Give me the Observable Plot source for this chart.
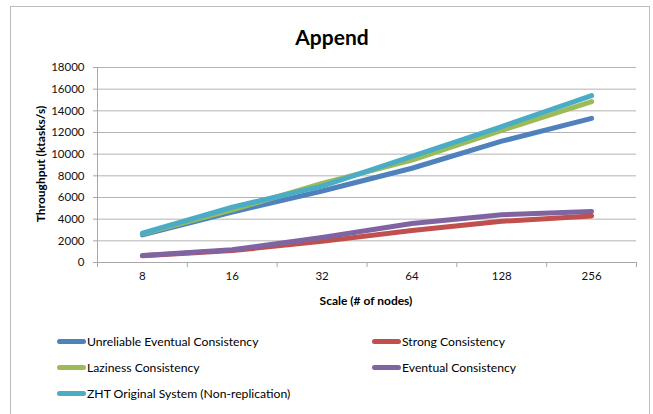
<!DOCTYPE html>
<html>
<head>
<meta charset="utf-8">
<script src="https://cdn.jsdelivr.net/npm/d3@7"></script>
<script src="https://cdn.jsdelivr.net/npm/@observablehq/plot@0.6"></script>
<style>
  html, body { margin: 0; padding: 0; background: #fff; }
  #chart {
    position: relative; width: 653px; height: 414px; overflow: hidden;
    font-family: Lato, "Open Sans", sans-serif; color: #000;
  }
  #frame {
    position: absolute; left: 10px; top: 6px; width: 640px; height: 440px;
    border: 1px solid #bcbcbc; box-sizing: border-box;
  }
  #title {
    position: absolute; left: 232px; width: 200px; top: 24px;
    text-align: center; font-weight: bold; font-size: 21px; line-height: 26px;
  }
  #plot { position: absolute; left: 0; top: 50px; }
  #plot svg { overflow: visible; }
  #plot [aria-label^="y-axis"] line, #plot [aria-label^="y-axis"] path,
  #plot [aria-label^="x-axis"] line, #plot [aria-label^="x-axis"] path { stroke: #a8a8a8; }
  #ytitle {
    position: absolute; left: 40px; top: 164px; white-space: nowrap;
    transform: translate(-50%, -50%) rotate(-90deg);
    font-weight: bold; font-size: 12px;
  }
  #xtitle {
    position: absolute; left: 266px; width: 200px; top: 293px;
    text-align: center; font-weight: bold; font-size: 12px; line-height: 16px;
  }
  #legend {
    position: absolute; left: 57px; top: 329px;
    display: grid; grid-template-columns: 315px 260px; grid-auto-rows: 25.8px;
    font-size: 12.2px;
  }
  .item { display: flex; align-items: center; white-space: nowrap; }
  .swatch { width: 29px; height: 5px; border-radius: 3px; margin-right: 1px; }
</style>
</head>
<body>
<div id="chart">
  <div id="frame"></div>
  <div id="title">Append</div>
  <div id="plot"></div>
  <div id="ytitle">Throughput (ktasks/s)</div>
  <div id="xtitle">Scale (# of nodes)</div>
  <div id="legend"></div>
</div>
<script>
// Cluster size (# of nodes) on the x axis
const nodeCounts = ["8", "16", "32", "64", "128", "256"];

// Throughput (ktasks/s) for each replication mode
const unreliableEventual = [2550, 4650, 6600, 8700, 11200, 13300];
const strong = [620, 1100, 1950, 2950, 3800, 4300];
const laziness = [2650, 4850, 7300, 9450, 12200, 14850];
const eventual = [640, 1170, 2300, 3600, 4400, 4700];
const zhtOriginal = [2700, 5100, 7050, 9800, 12550, 15400];

const seriesNames = [
  "Unreliable Eventual Consistency",
  "Strong Consistency",
  "Laziness Consistency",
  "Eventual Consistency",
  "ZHT Original System (Non-replication)"
];
const seriesColors = ["#4f81bd", "#c0504d", "#9bbb59", "#8064a2", "#4bacc6"];

const yTicks = [0, 2000, 4000, 6000, 8000, 10000, 12000, 14000, 16000, 18000];

// Long-format rows: one per (series, node count)
const seriesValues = [unreliableEventual, strong, laziness, eventual, zhtOriginal];
const rows = seriesValues.flatMap((vals, s) =>
  vals.map((v, i) => ({series: seriesNames[s], slot: i + 0.5, value: v}))
);
const boundaries = d3.range(nodeCounts.length + 1);

const chart = Plot.plot({
  width: 653,
  height: 270,
  marginTop: 17,
  marginBottom: 58,
  marginLeft: 97,
  marginRight: 17,
  style: {fontFamily: "Lato, 'Open Sans', sans-serif", fontSize: "11.5px", color: "#111", background: "transparent"},
  x: {
    domain: [0, nodeCounts.length],
    ticks: boundaries,
    tickFormat: () => "",
    tickSize: 5,
    label: null
  },
  y: {
    domain: [0, 18000],
    ticks: yTicks,
    tickFormat: d => String(d),
    tickSize: 4,
    tickPadding: 9,
    label: null
  },
  color: {domain: seriesNames, range: seriesColors},
  marks: [
    Plot.ruleY(yTicks, {stroke: "#b4b4b4", strokeWidth: 1}),
    Plot.ruleX([0], {stroke: "#a8a8a8"}),
    Plot.ruleY([0], {stroke: "#a8a8a8"}),
    Plot.text(nodeCounts, {
      x: (d, i) => i + 0.5,
      text: d => d,
      frameAnchor: "bottom",
      dy: 17,
      fill: "#111",
      fontSize: 11.5
    }),
    Plot.line(rows, {
      x: "slot",
      y: "value",
      z: "series",
      stroke: "series",
      strokeWidth: 5,
      strokeLinecap: "round",
      strokeLinejoin: "round"
    })
  ]
});
document.getElementById("plot").appendChild(chart);

// Legend laid out in two columns, row by row
const legend = d3.select("#legend");
seriesNames.forEach((name, i) => {
  const item = legend.append("div").attr("class", "item");
  item.append("div").attr("class", "swatch").style("background", seriesColors[i]);
  item.append("span").text(name);
});
</script>
</body>
</html>
